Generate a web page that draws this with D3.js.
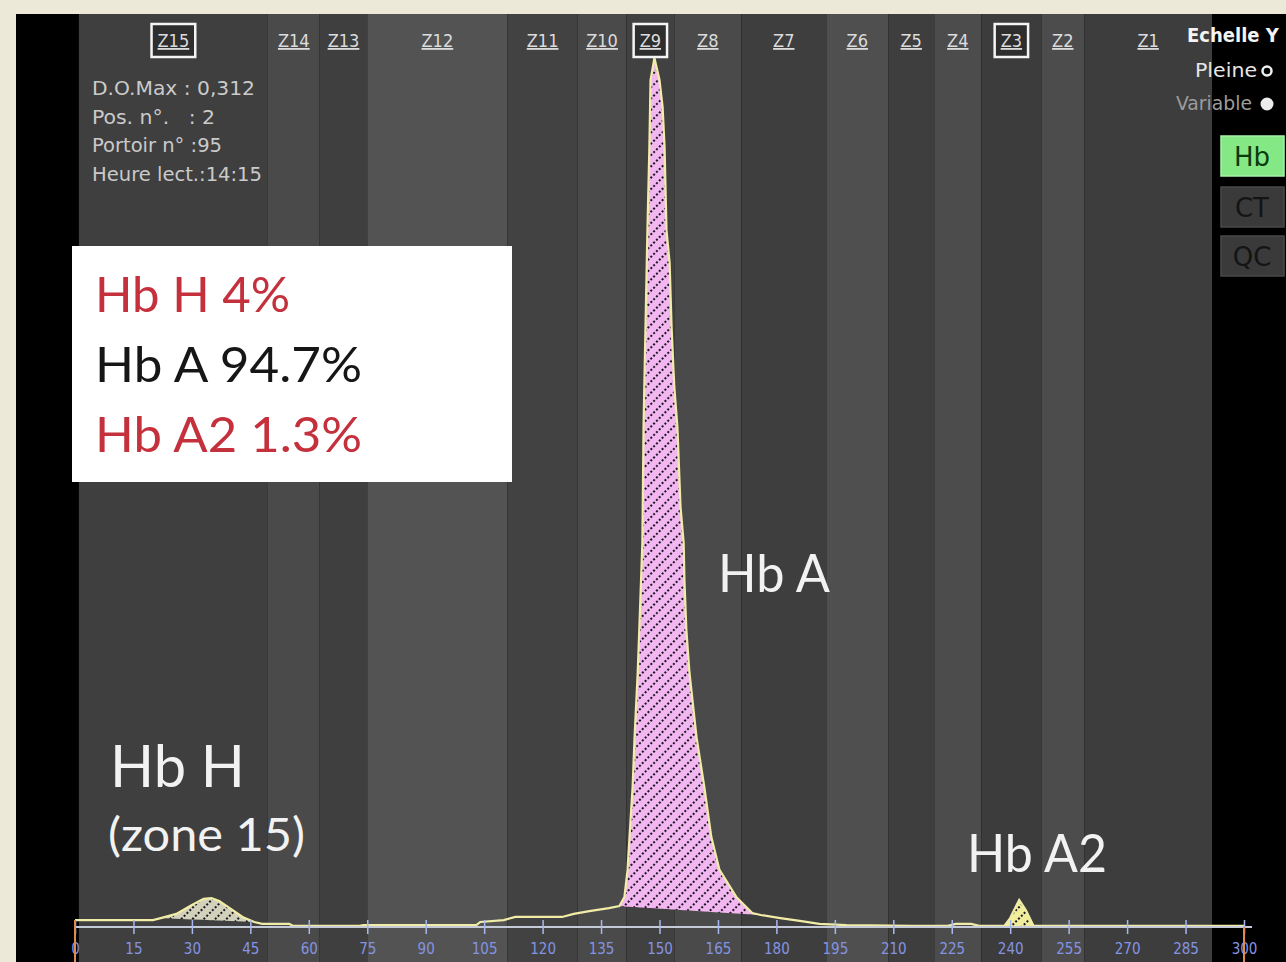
<!DOCTYPE html>
<html><head><meta charset="utf-8">
<script src="https://cdn.jsdelivr.net/npm/d3@7"></script>
<style>
body{margin:0;background:#ece9d8;overflow:hidden}
svg{display:block}
</style>
</head><body>
<svg id="c" width="1286" height="962"></svg>
<script>
// ---------------- DATA ----------------
const zoneNames = ["Z15","Z14","Z13","Z12","Z11","Z10","Z9","Z8","Z7","Z6","Z5","Z4","Z3","Z2","Z1"];
const zoneEdges = [1,49.5,62.8,75,111,129,141.5,153.8,171,192.8,208.7,220.5,232.6,248,259,291.8];
const boxedZones = ["Z15","Z9","Z3"];
const tickValues = [0,15,30,45,60,75,90,105,120,135,150,165,180,195,210,225,240,255,270,285,300];
const tracePos = [0,20,22,26,30,33,35,37,40,43,46,48,55,56,73,74,103,104,110,113,125,128,132,137,
  139.7,141,141.8,142.3,143.1,143.6,144.4,144.9,145.6,145.9,146.4,146.9,147.4,147.7,148.7,
  150,150.8,151.3,151.8,152.6,153.1,153.8,154.6,155.4,156.2,156.4,156.9,157.7,159.5,161.5,163.3,165.4,169.7,173.8,
  176,181,186,191,198,215,224,226,230,232,238.5,240,242.3,244,246,300];
const traceOD = [0.0025,0.0025,0.0032,0.0047,0.0079,0.0101,0.0104,0.0093,0.0065,0.0036,0.0018,0.0011,0.0011,0.0004,0.0004,0.0007,0.0007,0.0018,0.0025,0.0036,0.0036,0.0047,0.0057,0.0068,
  0.0075,0.0108,0.0205,0.0323,0.0503,0.0682,0.0912,0.1102,0.1379,0.1795,0.2154,0.2502,0.2800,0.3041,0.312,
  0.3041,0.2944,0.2800,0.2502,0.2384,0.2154,0.1939,0.1795,0.1508,0.1379,0.1246,0.1066,0.0912,0.0682,0.0503,0.0323,0.0205,0.0108,0.0050,
  0.0043,0.0032,0.0022,0.0011,0.0007,0.0004,0.0004,0.0011,0.0011,0.0004,0.0004,0.0032,0.0097,0.0061,0.0004,0.0004];
const peakNames = ["Hb H","Hb A","Hb A2"];
const peakStart = [22,139.7,238.5];
const peakEnd = [47,176,246];
const resultLabels = ["Hb H 4%","Hb A 94.7%","Hb A2 1.3%"];
const infoLines = ["D.O.Max : 0,312","Pos. n°.   : 2","Portoir n° :95","Heure lect.:14:15"];
const odMax = 0.312;

// ---------------- STYLES ----------------
const zoneShades = ["#3f3f3f","#4a4a4a","#3f3f3f","#535353","#424242","#4a4a4a","#414141","#4a4a4a","#3e3e3e","#4f4f4f","#3e3e3e","#4c4c4c","#3c3c3c","#4c4c4c","#3d3d3d"];
const peakFills = ["#d2d2bc","#f2b6f0","#f0ee9c"];
const condensed = "'DejaVu Sans Condensed','DejaVu Sans',sans-serif";

const svg = d3.select("#c");
const x = d3.scaleLinear().domain([0,300]).range([75,1244]);
const y = d3.scaleLinear().domain([0,odMax]).range([927,58]);

// background
svg.append("rect").attr("x",0).attr("y",0).attr("width",1286).attr("height",962).attr("fill","#ece9d8");
svg.append("rect").attr("x",16).attr("y",14).attr("width",1270).attr("height",948).attr("fill","#000");

// zone bands
const zones = zoneNames.map((n,i)=>({name:n,a:zoneEdges[i],b:zoneEdges[i+1],shade:zoneShades[i]}));
svg.append("g").selectAll("rect").data(zones).join("rect")
  .attr("x",d=>x(d.a)).attr("y",14).attr("width",d=>x(d.b)-x(d.a)).attr("height",948)
  .attr("fill",d=>d.shade);

// hatch patterns
const defs = svg.append("defs");
peakFills.forEach((c,i)=>{
  const p = defs.append("pattern").attr("id","hatch"+i).attr("patternUnits","userSpaceOnUse")
    .attr("width",8).attr("height",8).attr("patternTransform","rotate(45)");
  p.append("rect").attr("width",8).attr("height",8).attr("fill",c);
  p.append("line").attr("x1",2).attr("y1",0).attr("x2",2).attr("y2",8)
    .attr("stroke","#1e1822").attr("stroke-width",2).attr("stroke-dasharray","2,2");
});

// trace data
const trace = tracePos.map((p,i)=>({p, v:traceOD[i]}));

// peak fills
peakNames.forEach((n,i)=>{
  const seg = trace.filter(d=>d.p>=peakStart[i] && d.p<=peakEnd[i]);
  const v0 = seg[0].v, v1 = seg[seg.length-1].v, p0 = seg[0].p, p1 = seg[seg.length-1].p;
  const base = p => v0 + (v1-v0)*(p-p0)/(p1-p0);
  const area = d3.area().x(d=>x(d.p)).y0(d=>y(base(d.p))).y1(d=>y(d.v));
  svg.append("path").datum(seg).attr("d",area).attr("fill","url(#hatch"+i+")");
});

// trace line
svg.append("path").datum(trace)
  .attr("d",d3.line().x(d=>x(d.p)).y(d=>y(d.v)))
  .attr("fill","none").attr("stroke","#f1eca6").attr("stroke-width",2.2);

// axis
svg.append("line").attr("x1",x(0)).attr("x2",x(300)+8).attr("y1",y(0)).attr("y2",y(0))
  .attr("stroke","#c4cad8").attr("stroke-width",2);
const ax = svg.append("g").attr("transform",`translate(0,${y(0)})`)
  .call(d3.axisBottom(x).tickValues(tickValues).tickSize(7).tickSizeOuter(0).tickPadding(9));
ax.select(".domain").remove();
ax.selectAll(".tick line").attr("stroke","#a8b8ee").attr("stroke-width",1.5).attr("y1",-7);
ax.selectAll(".tick text").attr("fill","#8494e2").attr("font-family",condensed).attr("font-size",15);
// orange markers at ends
[0,300].forEach((v,i)=>{
  svg.append("line").attr("x1",x(v)).attr("x2",x(v)).attr("y1",i?y(0):y(traceOD[0])).attr("y2",962)
    .attr("stroke","#e08a50").attr("stroke-width",2);
});

// zone labels
const zl = svg.append("g");
zones.forEach(z=>{
  const cx = (x(z.a)+x(z.b))/2;
  const t = zl.append("text").attr("x",cx).attr("y",47).attr("text-anchor","middle")
    .attr("font-family",condensed).attr("font-size",18).attr("fill","#dcdcdc")
    .style("text-decoration","underline").text(z.name);
  if (boxedZones.includes(z.name)) {
    const w = t.node().getComputedTextLength()+12;
    zl.insert("rect","text").attr("x",cx-w/2).attr("y",24).attr("width",w).attr("height",33)
      .attr("fill","#2e2e2e").attr("stroke","#f4f4f4").attr("stroke-width",2.5);
  }
});

// info lines
const infoWidths = [163,123,130,170];
svg.append("g").selectAll("text").data(infoLines).join("text")
  .attr("x",92).attr("y",(d,i)=>95+i*28.5).attr("font-family",condensed).attr("font-size",19)
  .attr("fill","#cacaca").style("white-space","pre")
  .attr("textLength",(d,i)=>infoWidths[i]).attr("lengthAdjust","spacingAndGlyphs").text(d=>d);

// right panel
svg.append("text").attr("x",1187).attr("y",42).attr("font-family",condensed).attr("font-weight","bold")
  .attr("font-size",20).attr("fill","#f4f4f4").text("Echelle Y");
svg.append("text").attr("x",1257).attr("y",77).attr("text-anchor","end").attr("font-family",condensed)
  .attr("font-size",19).attr("fill","#e6e6e6").attr("textLength",62).attr("lengthAdjust","spacingAndGlyphs").text("Pleine");
svg.append("circle").attr("cx",1267).attr("cy",71).attr("r",4.5).attr("fill","#000").attr("stroke","#f0f0f0").attr("stroke-width",2.5);
svg.append("text").attr("x",1252).attr("y",110).attr("text-anchor","end").attr("font-family",condensed)
  .attr("font-size",19).attr("fill","#9c9c9c").attr("textLength",76).attr("lengthAdjust","spacingAndGlyphs").text("Variable");
svg.append("circle").attr("cx",1267).attr("cy",104).attr("r",6.5).attr("fill","#ececec");
const buttons = [["Hb",136,"#84e884","#0c3a0c"],["CT",187,"#3a3a3a","#141414"],["QC",236,"#3a3a3a","#141414"]];
buttons.forEach(([t,by,f,tc])=>{
  svg.append("rect").attr("x",1221).attr("y",by).attr("width",63).attr("height",40).attr("fill",f)
    .attr("stroke",t==="Hb"?"#a8f4a8":"#4a4a4a").attr("stroke-width",1.5);
  svg.append("text").attr("x",1252).attr("y",by+30).attr("text-anchor","middle")
    .attr("font-family","'DejaVu Sans',sans-serif").attr("font-size",26).attr("fill",tc).text(t);
});

// results box
svg.append("rect").attr("x",72).attr("y",246).attr("width",440).attr("height",236).attr("fill","#ffffff");
const resColors = ["#c4303c","#161616","#c4303c"];
const resWidths = [195,267,267];
resultLabels.forEach((t,i)=>{
  svg.append("text").attr("x",95).attr("y",312+i*70).attr("font-family","Lato,sans-serif")
    .attr("font-size",49).attr("fill",resColors[i])
    .attr("textLength",resWidths[i]).attr("lengthAdjust","spacingAndGlyphs").text(t);
});

// annotations
const ann = [
  {t:"Hb A", x:718, y:592, s:52, w:112},
  {t:"Hb H", x:110, y:787, s:58, w:135},
  {t:"(zone 15)", x:108, y:851, s:46, w:197},
  {t:"Hb A2", x:967, y:872, s:52, w:140}
];
ann.forEach(a=>{
  svg.append("text").attr("x",a.x).attr("y",a.y).attr("font-family","Lato,sans-serif")
    .attr("font-size",a.s).attr("fill","#f2f2f2")
    .attr("textLength",a.w).attr("lengthAdjust","spacingAndGlyphs").text(a.t);
});
</script>
</body></html>
